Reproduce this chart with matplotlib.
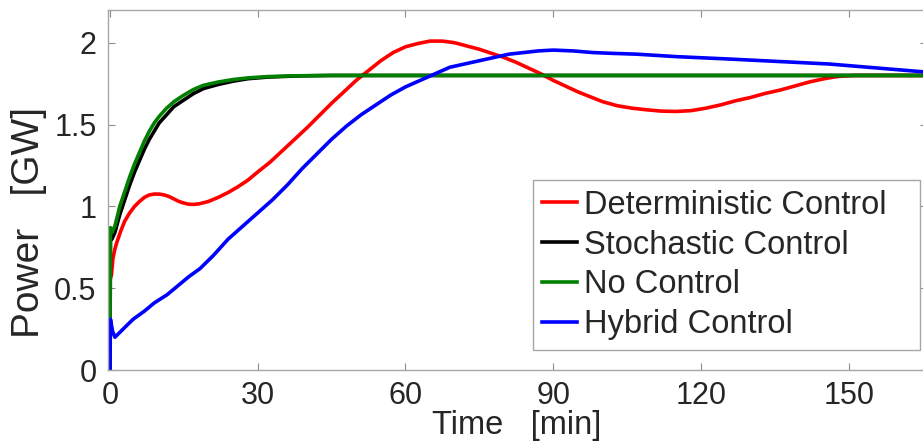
import matplotlib
matplotlib.use("Agg")
import matplotlib.pyplot as plt

plt.rcParams['font.family'] = ['Liberation Sans', 'DejaVu Sans']

# --- dane (czas w minutach, moc w GW) ---
t_det = [0, 0.3, 0.6, 1.0, 1.5, 2.2, 3, 4, 5, 6, 7, 8, 9, 10, 11, 12, 13, 14, 15, 16,
         17, 18, 19, 20, 22, 24, 26, 28, 30, 32.5, 35, 37.5, 40, 42.5, 45, 47.5, 50,
         52.5, 55, 57.5, 60, 62.5, 65, 67.5, 70, 72.5, 75, 77.5, 80, 82.5, 85, 87.5,
         90, 92.5, 95, 97.5, 100, 103, 106, 109, 112, 115, 118, 121, 124, 127, 130,
         133, 136, 139, 142, 145, 148, 151, 155, 166]
p_det = [0.55, 0.58, 0.68, 0.74, 0.79, 0.85, 0.91, 0.96, 1.00, 1.03, 1.055, 1.07, 1.075,
         1.075, 1.07, 1.06, 1.045, 1.03, 1.02, 1.013, 1.012, 1.015, 1.022, 1.03, 1.055,
         1.085, 1.12, 1.16, 1.21, 1.27, 1.34, 1.41, 1.48, 1.555, 1.63, 1.70, 1.77, 1.83,
         1.89, 1.94, 1.975, 1.995, 2.01, 2.01, 2.0, 1.98, 1.96, 1.935, 1.91, 1.88, 1.845,
         1.81, 1.77, 1.735, 1.70, 1.67, 1.64, 1.615, 1.60, 1.59, 1.582, 1.58, 1.585, 1.60,
         1.62, 1.645, 1.665, 1.69, 1.71, 1.735, 1.76, 1.78, 1.795, 1.80, 1.80, 1.80]

t_sto = [0, 0.1, 0.4, 1, 2, 3, 4, 5, 6, 7, 8, 9, 10, 11.5, 13, 15, 17, 19, 22, 25, 28,
         32, 38, 45, 166]
p_sto = [0, 0.85, 0.80, 0.84, 0.95, 1.04, 1.13, 1.21, 1.28, 1.35, 1.41, 1.46, 1.51,
         1.56, 1.61, 1.65, 1.69, 1.72, 1.745, 1.765, 1.78, 1.79, 1.797, 1.80, 1.80]

t_no = [0, 0.1, 0.4, 1, 2, 3, 4, 5, 6, 7, 8, 9, 10, 11.5, 13, 15, 17, 19, 22, 25, 28,
        32, 38, 45, 166]
p_no = [0, 0.87, 0.84, 0.88, 1.00, 1.09, 1.18, 1.26, 1.33, 1.40, 1.46, 1.51, 1.55,
        1.60, 1.64, 1.68, 1.715, 1.74, 1.76, 1.775, 1.785, 1.793, 1.798, 1.80, 1.80]

t_hyb = [0, 0.1, 0.5, 1, 2, 3, 4.7, 7, 9, 11.6, 14, 16, 18.3, 21, 24, 27, 30, 33, 36,
         39, 42, 45, 48, 51, 54, 57, 60, 63, 66, 69, 72, 75, 78, 81, 84, 87, 90, 94,
         98, 102, 107, 115, 126, 136, 146, 156, 166]
p_hyb = [0, 0.31, 0.24, 0.20, 0.23, 0.26, 0.31, 0.36, 0.41, 0.46, 0.52, 0.57, 0.62,
         0.70, 0.80, 0.88, 0.96, 1.04, 1.13, 1.23, 1.32, 1.41, 1.49, 1.56, 1.62, 1.68,
         1.73, 1.77, 1.81, 1.85, 1.87, 1.89, 1.91, 1.93, 1.94, 1.95, 1.955, 1.95, 1.94,
         1.935, 1.93, 1.915, 1.90, 1.885, 1.87, 1.845, 1.82]

x_ticks = [0, 30, 60, 90, 120, 150]
y_ticks = [0, 0.5, 1, 1.5, 2]
y_tick_labels = ['0', '0.5', '1', '1.5', '2']

# --- wykres ---
fig = plt.figure(figsize=(9.23, 4.43), dpi=100)
ax = fig.add_axes([107.5 / 923, 73 / 443, 819 / 923, 360 / 443])

ax.plot(t_det, p_det, color='#ff0000', lw=2.6, label='Deterministic Control')
ax.plot(t_sto, p_sto, color='black', lw=2.6, label='Stochastic Control')
ax.plot(t_no, p_no, color='#007f00', lw=2.6, label='No Control')
ax.plot(t_hyb, p_hyb, color='#0000ff', lw=2.6, label='Hybrid Control')

ax.set_xlim(-0.5, 165.8)
ax.set_ylim(0, 2.2)
ax.set_xticks(x_ticks)
ax.set_yticks(y_ticks)
ax.set_yticklabels(y_tick_labels)

ax.tick_params(direction='in', length=5, width=0.8, color='#8c8c8c',
               labelsize=22, labelcolor='#262626', pad=8,
               top=True, right=True)
for sp in ax.spines.values():
    sp.set_color('#a6a6a6')
    sp.set_linewidth(1.0)

ax.set_xlabel('Time   [min]', fontsize=23.5, color='#262626')
ax.set_ylabel('Power   [GW]', fontsize=28, color='#262626')
ax.xaxis.set_label_coords(0.5, -0.112)
ax.yaxis.set_label_coords(-0.074, 0.41)

# legenda rozciagnieta do szerokosci ramki jak w oryginale
leg = ax.legend(loc='upper left', bbox_to_anchor=(0.519, 0.064, 0.4725, 0.464),
                mode='expand', borderaxespad=0,
                fontsize=23.5, frameon=True, fancybox=False, framealpha=1,
                handlelength=1.07, handletextpad=0.2, labelspacing=0.27,
                borderpad=0.3)
leg.get_frame().set_edgecolor('#a6a6a6')
leg.get_frame().set_linewidth(1.0)
for txt in leg.get_texts():
    txt.set_color('#262626')

fig.savefig('out.png', dpi=100)
